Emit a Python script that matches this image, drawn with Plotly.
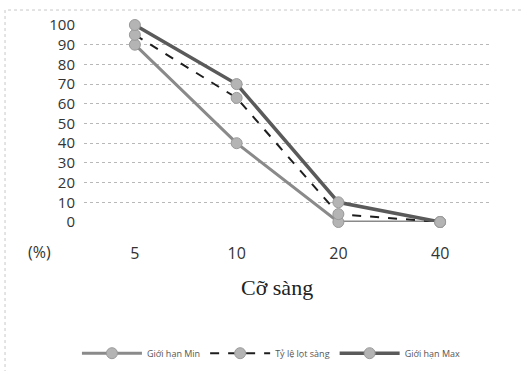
import plotly.graph_objects as go

# Sieve sizes (categories) and passing percentages
sieve_sizes = ["5", "10", "20", "40"]
limit_min = [90, 40, 0, 0]
passing = [95, 63, 4, 0]
limit_max = [100, 70, 10, 0]
y_ticks = [0, 10, 20, 30, 40, 50, 60, 70, 80, 90, 100]

series = [
    ("Giới hạn Min", limit_min, dict(color="#8a8a8a", width=3, dash="solid")),
    ("Tỷ lệ lọt sàng", passing, dict(color="#1e1e1e", width=2, dash="dash")),
    ("Giới hạn Max", limit_max, dict(color="#5a5a5a", width=3.5, dash="solid")),
]

fig = go.Figure()
for name, vals, line in series:
    fig.add_trace(go.Scatter(
        x=sieve_sizes, y=vals, name=name, mode="lines+markers",
        line=line,
        marker=dict(symbol="circle", size=11, color="#b4b4b4",
                    line=dict(color="#9a9a9a", width=1)),
        cliponaxis=False,
    ))

fig.update_layout(
    width=522, height=371,
    margin=dict(l=84, r=31, t=25, b=149),
    paper_bgcolor="white", plot_bgcolor="white",
    font=dict(family="Open Sans", color="#333333"),
    showlegend=True,
    legend=dict(orientation="h", x=0.52, xref="container", xanchor="center",
                y=0.048, yref="container", yanchor="middle",
                font=dict(size=9, color="#555555"), itemwidth=60),
    xaxis=dict(type="category", range=[-0.5, 3.5], showgrid=False,
               showline=False, zeroline=False, ticks="", automargin=False,
               tickfont=dict(size=16, color="#333333"), ticklabelstandoff=20),
    yaxis=dict(range=[0, 100], tickvals=y_ticks, showgrid=True,
               gridcolor="#b8b8b8", griddash="dot", gridwidth=1,
               zeroline=False, showline=False, ticks="", automargin=False,
               tickfont=dict(size=15, color="#333333"), ticklabelstandoff=8),
    shapes=[dict(type="rect", xref="paper", yref="paper",
                 x0=-0.194, x1=1.2, y0=-0.9, y1=1.076,
                 line=dict(color="#c8c8c8", width=1, dash="dot"))],
    annotations=[
        dict(text="(%)", xref="paper", yref="paper", x=-0.11, y=-0.152,
             xanchor="center", yanchor="middle", showarrow=False,
             font=dict(size=16, color="#333333")),
        dict(text="Cỡ sàng", xref="paper", yref="paper", x=0.474, y=-0.33,
             xanchor="center", yanchor="middle", showarrow=False,
             font=dict(family="Liberation Serif", size=22, color="#222222")),
    ],
)

fig.write_html("out.html")
